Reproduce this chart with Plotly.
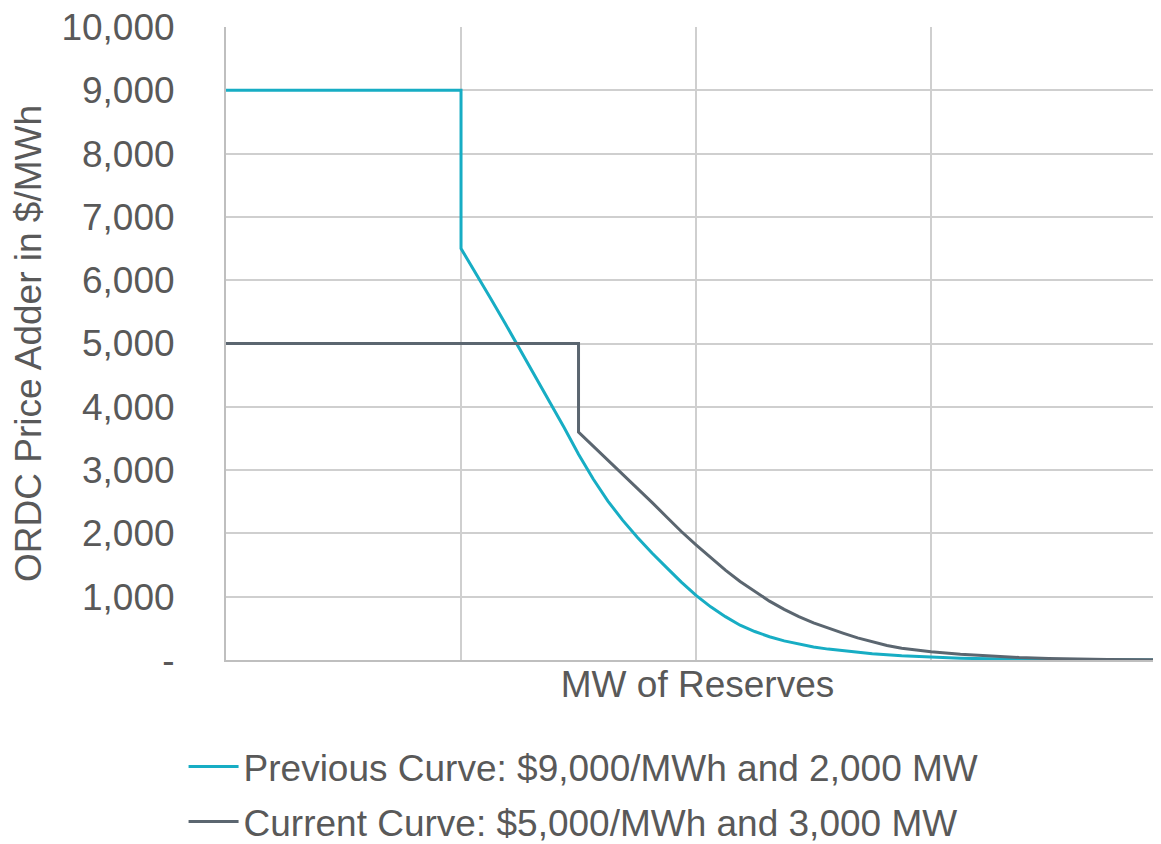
import plotly.graph_objects as go

# Previous curve ($9,000/MWh, 2,000 MW)
prev_mw = [0, 2000, 2000, 2125, 2250, 2375, 2500, 2625, 2750, 2875, 3000, 3125, 3250,
           3375, 3500, 3625, 3750, 3875, 4000, 4125, 4250, 4375, 4500, 4625, 4750,
           4875, 5000, 5125, 5250, 5500, 5750, 6000, 6250, 6500, 6750, 7000, 7500, 8000]
prev_price = [9000, 9000, 6500, 6115, 5720, 5320, 4915, 4510, 4100, 3680, 3250, 2860, 2510,
              2210, 1940, 1690, 1460, 1230, 1020, 840, 685, 550, 450, 368, 302,
              250, 207, 172, 145, 100, 66, 43, 28, 18, 11, 7, 3, 1]

# Current curve ($5,000/MWh, 3,000 MW)
curr_mw = [0, 3000, 3000, 3125, 3250, 3375, 3500, 3625, 3750, 3875, 4000, 4125, 4250,
           4375, 4500, 4625, 4750, 4875, 5000, 5125, 5250, 5375, 5500, 5625, 5750,
           6000, 6250, 6500, 6750, 7000, 7250, 7500, 8000]
curr_price = [5000, 5000, 3600, 3380, 3160, 2940, 2720, 2490, 2260, 2030, 1820, 1620, 1420,
              1240, 1080, 930, 800, 685, 585, 500, 425, 350, 285, 230, 185,
              130, 92, 62, 40, 25, 15, 9, 3]

y_ticks = [0, 1000, 2000, 3000, 4000, 5000, 6000, 7000, 8000, 9000, 10000]
y_labels = ["-", "1,000", "2,000", "3,000", "4,000", "5,000", "6,000", "7,000",
            "8,000", "9,000", "10,000"]
x_grid = [0, 2000, 4000, 6000, 8000]

names = ["Previous Curve: $9,000/MWh and 2,000 MW",
         "Current Curve: $5,000/MWh and 3,000 MW"]

FONT = "Liberation Sans, Arial, sans-serif"
TXT = "#595959"

fig = go.Figure()
fig.add_trace(go.Scatter(x=prev_mw, y=prev_price, mode="lines", name=names[0],
                         line=dict(color="#17ADC4", width=3), legendgroup="a"))
fig.add_trace(go.Scatter(x=curr_mw, y=curr_price, mode="lines", name=names[1],
                         line=dict(color="#5B6670", width=3), legendgroup="b"))

fig.update_layout(
    width=1161, height=844,
    margin=dict(l=218, r=0, t=19, b=192),
    paper_bgcolor="white", plot_bgcolor="white",
    font=dict(family=FONT, color=TXT, size=37),
    showlegend=True,
    legend=dict(x=-0.045, xanchor="left", xref="paper",
                y=0.1375, yanchor="top", yref="container",
                font=dict(size=37, color=TXT), tracegroupgap=4,
                itemwidth=50, bgcolor="rgba(0,0,0,0)"),
    xaxis=dict(range=[0, 8025], tickvals=x_grid, showticklabels=False,
               showgrid=True, gridcolor="#CFCFCF", gridwidth=2, automargin=False,
               showline=True, linecolor="#BFBFBF", linewidth=2, zeroline=False,
               title=dict(text="MW of Reserves", font=dict(size=37, color=TXT), standoff=10)),
    yaxis=dict(range=[0, 10000], tickvals=y_ticks, ticktext=y_labels, automargin=False,
               showgrid=True, gridcolor="#CFCFCF", gridwidth=2,
               showline=True, linecolor="#BFBFBF", linewidth=2, zeroline=False,
               ticks="outside", ticklen=42, tickcolor="rgba(0,0,0,0)",
               ticklabeloverflow="allow",
               tickfont=dict(size=37, color=TXT),
               title=dict(text="ORDC Price Adder in $/MWh", font=dict(size=37, color=TXT),
                          standoff=10)),
)

fig.write_html("out.html")
